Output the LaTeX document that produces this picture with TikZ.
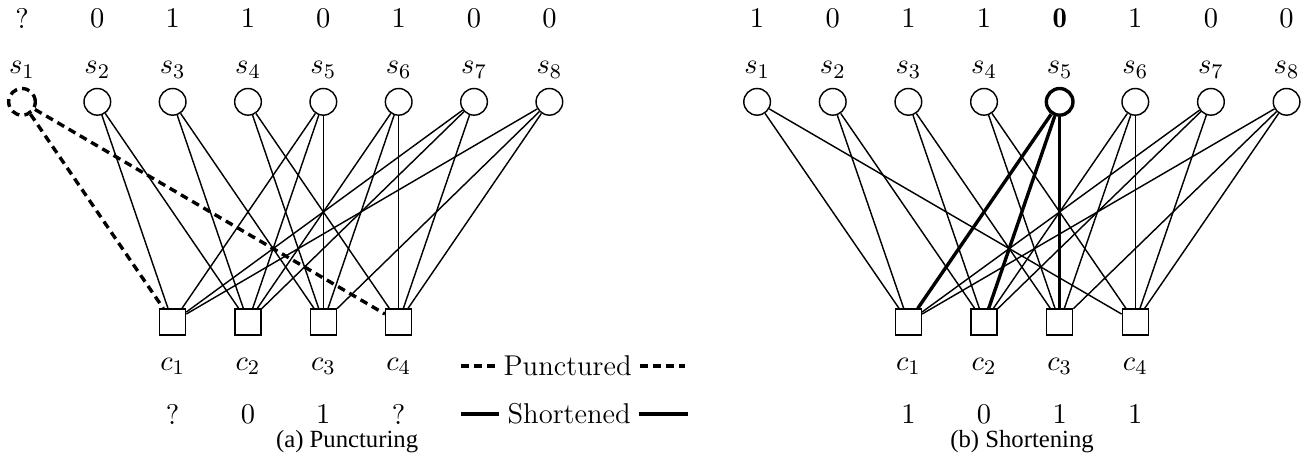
\documentclass[tikz,border=0pt]{standalone}
\usepackage{fontspec}
\newfontfamily\capfont{Liberation Serif}
\usetikzlibrary{calc}

\tikzset{
  var/.style={draw, circle, minimum size=0.36cm, inner sep=0pt, line width=0.55pt},
  chk/.style={draw, rectangle, minimum size=0.35cm, inner sep=0pt, line width=0.55pt},
  lnk/.style={line width=0.55pt},
  punct/.style={line width=1.3pt, dash pattern=on 3pt off 2pt},
  shortlnk/.style={line width=1.3pt},
  lgd/.style={inner sep=3pt},
  capt/.style={font=\capfont\fontsize{9.5}{11}\selectfont},
}

\begin{document}
\begin{tikzpicture}[font=\fontsize{11}{13}\selectfont]
  \useasboundingbox (0,0) rectangle (17.66,6.216);
  \def\yval{5.97}
  \def\ylab{5.27}
  \def\yvar{4.84}
  \def\ychk{1.865}
  \def\yclab{1.27}
  \def\ycval{0.62}

  % (a) Puncturing
  \def\xa{0.297}
  \def\da{1.018}
  \node[var, punct] (a1) at (\xa,\yvar) {};
  \foreach \i in {2,...,8}
    \node[var] (a\i) at ({\xa+(\i-1)*\da},\yvar) {};
  \foreach \i/\v in {1/?,2/0,3/1,4/1,5/0,6/1,7/0,8/0} {
    \node (as\i) at ({\xa+(\i-1)*\da},\ylab) {$s_{\i}$};
    \node (av\i) at ({\xa+(\i-1)*\da},\yval) {$\v$};
  }
  \foreach \j/\v in {1/?,2/0,3/1,4/?} {
    \node[chk] (ac\j) at ({\xa+(\j+1)*\da},\ychk) {};
    \node (acl\j) at ({\xa+(\j+1)*\da},\yclab) {$c_{\j}$};
    \node (acv\j) at ({\xa+(\j+1)*\da},\ycval) {$\v$};
  }
  \foreach \j/\i in {1/2,1/5,1/7,1/8,2/2,2/3,2/5,2/6,2/7,3/3,3/4,3/5,3/6,3/8,4/4,4/6,4/7,4/8}
    \draw[lnk] (a\i) -- (ac\j);
  \draw[punct] (a1) -- (ac1);
  \draw[punct] (a1) -- (ac4);

  % Legende
  \node[lgd] (punc) at (7.67,\yclab) {Punctured};
  \coordinate (pl) at (6.23,\yclab);
  \coordinate (pr) at (9.26,\yclab);
  \draw[punct] (pl) -- (punc.west);
  \draw[punct] (punc.east) -- (pr);
  \node[lgd] (shrt) at (7.69,\ycval) {Shortened};
  \coordinate (sl) at (6.23,\ycval);
  \coordinate (sr) at (9.30,\ycval);
  \draw[shortlnk] (sl) -- (shrt.west);
  \draw[shortlnk] (shrt.east) -- (sr);

  \node[capt] (capa) at (4.69,0.25) {(a) Puncturing};

  % (b) Shortening
  \def\xb{10.23}
  \def\db{1.022}
  \foreach \i in {1,2,3,4,6,7,8}
    \node[var] (b\i) at ({\xb+(\i-1)*\db},\yvar) {};
  \node[var, shortlnk] (b5) at ({\xb+4*\db},\yvar) {};
  \foreach \i/\v in {1/1,2/0,3/1,4/1,5/\mathbf{0},6/1,7/0,8/0} {
    \node (bs\i) at ({\xb+(\i-1)*\db},\ylab) {$s_{\i}$};
    \node (bv\i) at ({\xb+(\i-1)*\db},\yval) {$\v$};
  }
  \foreach \j/\v in {1/1,2/0,3/1,4/1} {
    \node[chk] (bc\j) at ({\xb+(\j+1)*\db},\ychk) {};
    \node (bcl\j) at ({\xb+(\j+1)*\db},\yclab) {$c_{\j}$};
    \node (bcv\j) at ({\xb+(\j+1)*\db},\ycval) {$\v$};
  }
  \foreach \j/\i in {1/1,1/2,1/7,1/8,2/2,2/3,2/6,2/7,3/3,3/4,3/6,3/8,4/1,4/4,4/6,4/7,4/8}
    \draw[lnk] (b\i) -- (bc\j);
  \foreach \j in {1,2,3}
    \draw[shortlnk] (b5) -- (bc\j);

  \node[capt] (capb) at (13.81,0.25) {(b) Shortening};
\end{tikzpicture}
\end{document}
